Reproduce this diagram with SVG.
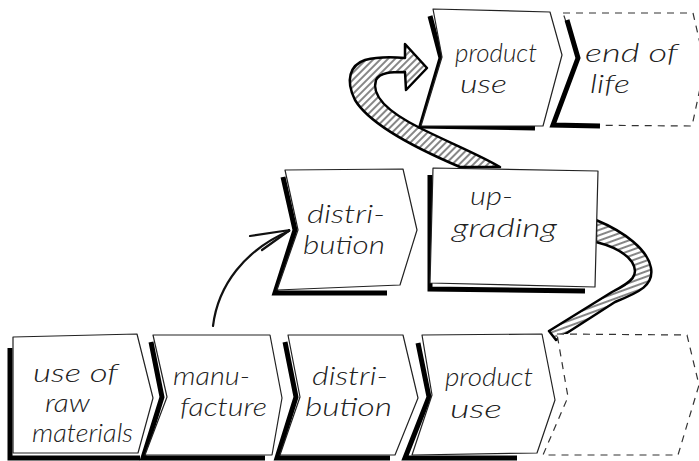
<svg xmlns="http://www.w3.org/2000/svg" width="699" height="461" viewBox="0 0 699 461">
<defs>
<pattern id="hatch1" patternUnits="userSpaceOnUse" width="5" height="5" patternTransform="rotate(45)"><rect width="5" height="5" fill="#fff"/><line x1="1" y1="0" x2="1" y2="5" stroke="#222" stroke-width="1.1"/></pattern>
<pattern id="hatch2" patternUnits="userSpaceOnUse" width="5" height="5" patternTransform="rotate(70)"><rect width="5" height="5" fill="#fff"/><line x1="1" y1="0" x2="1" y2="5" stroke="#222" stroke-width="1.1"/></pattern>
</defs>
<style>
.box{fill:#fff;stroke:#222;stroke-width:1.2;stroke-linejoin:round}
.dash{fill:#fff;stroke:#333;stroke-width:1.2;stroke-dasharray:7 6}
.sh{fill:none;stroke:#000;stroke-width:5;stroke-linejoin:miter}
.t{font-family:Lato,"Open Sans","Liberation Sans",sans-serif;font-weight:300;font-style:italic;font-size:26px;fill:#222}
.band{stroke:#000;stroke-width:2.5;stroke-linejoin:round}
.thin{fill:none;stroke:#111;stroke-width:2.2;stroke-linecap:round}
</style>
<rect width="699" height="461" fill="#fff"/>
<g id="connectors">
<path class="band" fill="url(#hatch1)" d="M460,167 C420,150 370,125 355,100 C345,80 350,65 365,60 C380,56 395,57 405,58 L405,44 L427,68 L406,90 L405,72 C392,72 380,72 376,80 C372,92 380,108 420,128 C450,143 480,155 500,167 Z"/>
<path class="band" fill="url(#hatch2)" d="M596,220 C625,232 648,250 651,268 C654,285 640,292 615,302 L556,340 L549,331 L612,292 C632,282 640,275 632,262 C625,252 612,246 596,242 Z"/>
<path class="thin" d="M213,326 C218,285 245,250 289,231"/>
<path class="thin" d="M250,236 L290,230 L262,250"/>
</g>
<g id="n-raw">
<polyline class="sh" points="10,348 10,458 140,458"/>
<path class="box" d="M13,337 L137,334 L153,398 L138,453 L13,453 Z"/>
<text class="t"><tspan x="33" y="382" textLength="85" lengthAdjust="spacingAndGlyphs">use of</tspan><tspan x="45" y="412" textLength="45" lengthAdjust="spacingAndGlyphs">raw</tspan><tspan x="32" y="442" textLength="101" lengthAdjust="spacingAndGlyphs">materials</tspan></text>
</g>
<g id="n-manufacture">
<polyline class="sh" points="151,342 162,397 143,458 265,458"/>
<path class="box" d="M153,335 L270,335 L282,398 L272,455 L145,455 L167,397 Z"/>
<text class="t"><tspan x="173" y="385" textLength="77" lengthAdjust="spacingAndGlyphs">manu-</tspan><tspan x="180" y="416" textLength="87" lengthAdjust="spacingAndGlyphs">facture</tspan></text>
</g>
<g id="n-distribution-1">
<polyline class="sh" points="285,342 296,397 277,458 390,458"/>
<path class="box" d="M288,335 L403,335 L418,398 L395,455 L280,455 L300,397 Z"/>
<text class="t"><tspan x="312" y="385" textLength="76" lengthAdjust="spacingAndGlyphs">distri-</tspan><tspan x="305" y="416" textLength="87" lengthAdjust="spacingAndGlyphs">bution</tspan></text>
</g>
<g id="n-productuse-1">
<polyline class="sh" points="418,343 429,397 405,458 517,458"/>
<path class="box" d="M422,335 L542,334 L555,400 L537,453 L412,455 L432,395 Z"/>
<text class="t"><tspan x="445" y="386" textLength="88" lengthAdjust="spacingAndGlyphs">product</tspan><tspan x="450" y="418" textLength="52" lengthAdjust="spacingAndGlyphs">use</tspan></text>
</g>
<g id="n-empty">
<path class="dash" d="M557,334 L687,335 L699,385 L678,455 L543,455 L568,397 Z"/>
</g>
<g id="n-distribution-2">
<polyline class="sh" points="283,177 295,230 275,293 387,293"/>
<path class="box" d="M285,170 L403,169 L417,230 L400,285 L277,290 L298,230 Z"/>
<text class="t"><tspan x="307" y="223" textLength="78" lengthAdjust="spacingAndGlyphs">distri-</tspan><tspan x="303" y="254" textLength="82" lengthAdjust="spacingAndGlyphs">bution</tspan></text>
</g>
<g id="n-upgrading">
<polyline class="sh" points="430,175 430,289 585,291"/>
<path class="box" d="M433,168 L598,171 L595,287 L430,283 Z"/>
<text class="t"><tspan x="470" y="205" textLength="43" lengthAdjust="spacingAndGlyphs">up-</tspan><tspan x="452" y="237" textLength="105" lengthAdjust="spacingAndGlyphs">grading</tspan></text>
</g>
<g id="n-productuse-2">
<polyline class="sh" points="430,16 441,58 421,126 535,128"/>
<path class="box" d="M433,9 L550,12 L562,55 L543,126 L421,126 L442,57 Z"/>
<text class="t"><tspan x="455" y="62" textLength="82" lengthAdjust="spacingAndGlyphs">product</tspan><tspan x="460" y="93" textLength="47" lengthAdjust="spacingAndGlyphs">use</tspan></text>
</g>
<g id="n-endoflife">
<path class="dash" d="M563,13 L693,13 L705,65 L692,126 L553,125 L578,57 Z"/>
<polyline class="sh" points="567,20 578,58 553,125 600,126"/>
<text class="t"><tspan x="585" y="62" textLength="93" lengthAdjust="spacingAndGlyphs">end of</tspan><tspan x="590" y="93" textLength="40" lengthAdjust="spacingAndGlyphs">life</tspan></text>
</g>
</svg>
